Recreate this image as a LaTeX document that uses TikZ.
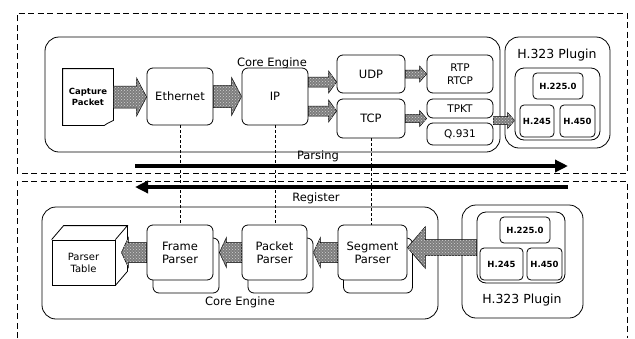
\documentclass[tikz,border=0pt]{standalone}
\usepackage{fontspec}
\setmainfont{DejaVu Sans}
\usetikzlibrary{arrows.meta,calc,patterns}
\definecolor{hatchG}{RGB}{125,125,125}
\definecolor{hatchL}{RGB}{210,210,210}
% fat shaded arrow: from, to, body half height, head half height, head length
\newcommand{\hatcharrow}[5]{%
  \filldraw[hatch] let \p1=(#1), \p2=(#2), \n2={\x2-sign(\x2-\x1)*#5} in
    (\x1,{\y1+#3}) -- ({\n2},{\y1+#3}) -- ({\n2},{\y1+#4}) -- (\x2,\y1)
    -- ({\n2},{\y1-#4}) -- ({\n2},{\y1-#3}) -- (\x1,{\y1-#3}) -- cycle;}

\begin{document}
\begin{tikzpicture}[x=1pt,y=-1pt,line width=0.8pt,
  box/.style={draw,fill=white,rounded corners=6pt,align=center,inner sep=1pt,font=\fontsize{11.5}{13}\selectfont},
  grp/.style={draw,rounded corners=14pt},
  sm/.style={draw,fill=white,rounded corners=4pt,inner sep=1pt,font=\bfseries\fontsize{8.5}{10}\selectfont},
  lbl/.style={inner sep=1pt,font=\fontsize{11.5}{13}\selectfont},
  sep/.style={line width=1pt,dash pattern=on 6pt off 3.5pt},
  link/.style={line width=0.7pt,dash pattern=on 3pt off 2pt},
  flow/.style={line width=4pt,-{Triangle[length=13pt,width=12pt]}},
  hatch/.style={fill=hatchG,draw=black,line width=0.5pt,postaction={pattern=crosshatch dots,pattern color=hatchL}}]
\useasboundingbox (0,0) rectangle (635,338);

% dashed frames
\draw[sep] (17,173) -- (17,13) -- (627,13) -- (627,173) -- cycle;
\draw[sep] (17,338) -- (17,181) -- (627,181) -- (627,338);

% ---- parsing side
\node[grp,minimum width=455pt,minimum height=115pt] (coreA) at (272.5,94.5) {};
\node[lbl] (coreAl) at (272,63) {Core Engine};
\node[minimum width=50pt,minimum height=56pt,inner sep=0pt,align=center,font=\bfseries\fontsize{8.5}{11}\selectfont] (capt) at (88,97) {Capture\\Packet};
\draw (capt.north west) -- (capt.north east) -- ([yshift=5pt]capt.south east) -- ([xshift=-6pt,yshift=2pt]capt.south east) -- ([xshift=-9pt]capt.south east) -- (capt.south west) -- cycle;
\node[box,minimum width=66pt,minimum height=57pt] (eth) at (180,96.5) {Ethernet};
\node[box,minimum width=66pt,minimum height=57pt] (ip) at (275,96.5) {IP};
\node[box,minimum width=68pt,minimum height=38pt] (udp) at (371,74) {UDP};
\node[box,minimum width=68pt,minimum height=39pt] (tcp) at (371,118.5) {TCP};
\node[box,minimum width=66pt,minimum height=38pt,font=\fontsize{10.5}{13}\selectfont] (rtp) at (460,74) {RTP\\RTCP};
\node[box,minimum width=66pt,minimum height=19pt,font=\fontsize{10.5}{12}\selectfont] (tpkt) at (460,108.5) {TPKT};
\node[box,minimum width=66pt,minimum height=22pt,font=\fontsize{10.5}{12}\selectfont] (q931) at (460,134) {Q.931};
\coordinate (stkW) at ($(tpkt.south west)!.5!(q931.north west)$);
\coordinate (stkE) at ($(tpkt.south east)!.5!(q931.north east)$);

\node[grp,minimum width=105pt,minimum height=111pt] (plugA) at (557.5,92.5) {};
\node[lbl,font=\fontsize{12.5}{14}\selectfont] (plugAl) at (557,55) {H.323 Plugin};
\node[grp,rounded corners=9pt,minimum width=85pt,minimum height=72pt] (plugAin) at (557.5,104) {};
\node[sm,minimum width=50pt,minimum height=26pt] (h225a) at (558,86) {H.225.0};
\node[sm,minimum width=34pt,minimum height=32pt] (h245a) at (537,121) {H.245};
\node[sm,minimum width=35pt,minimum height=32pt] (h450a) at (577.5,121) {H.450};

\hatcharrow{capt.east}{eth.west}{11pt}{19pt}{10pt}
\hatcharrow{eth.east}{ip.west}{11pt}{19pt}{10pt}
\hatcharrow{$(ip.east)+(0,-14.5)$}{udp.west}{5pt}{11pt}{8pt}
\hatcharrow{$(ip.east)+(0,14.5)$}{tcp.west}{5pt}{11pt}{8pt}
\hatcharrow{udp.east}{rtp.west}{4pt}{8pt}{7pt}
\hatcharrow{tcp.east}{stkW}{4pt}{8pt}{7pt}
\hatcharrow{stkE}{plugAin.west}{4pt}{8pt}{7pt}

% ---- register side
\node[grp,minimum width=396pt,minimum height=112pt] (coreB) at (240,263) {};
\node[lbl] (coreBl) at (240,302) {Core Engine};

\node[draw,fill=white,minimum width=63pt,minimum height=45pt,inner sep=0pt,align=center,font=\fontsize{10}{12}\selectfont] (table) at (83.5,262.5) {Parser\\Table};
\draw (table.north west) -- ++(12pt,14pt) -- ([xshift=12pt,yshift=14pt]table.north east) -- (table.north east);
\draw ([xshift=12pt,yshift=14pt]table.north east) -- ([xshift=12pt,yshift=14pt]table.south east) -- (table.south east);

\node[box,minimum width=66pt,minimum height=55pt] (frameB) at (186,265.5) {};
\node[box,minimum width=66pt,minimum height=55pt] (frame) at (180,252.5) {Frame\\Parser};
\node[box,minimum width=65pt,minimum height=55pt] (packB) at (280.5,265.5) {};
\node[box,minimum width=65pt,minimum height=55pt] (pack) at (274.5,252.5) {Packet\\Parser};
\node[box,minimum width=69pt,minimum height=55pt] (segB) at (378,265.5) {};
\node[box,minimum width=69pt,minimum height=55pt] (seg) at (372.5,252.5) {Segment\\Parser};

\node[grp,minimum width=121pt,minimum height=113pt] (plugB) at (522.5,261.5) {};
\node[lbl,font=\fontsize{12.5}{14}\selectfont] (plugBl) at (522,300) {H.323 Plugin};
\node[grp,rounded corners=9pt,minimum width=88pt,minimum height=71pt] (plugBin) at (521,247.5) {};
\node[sm,minimum width=50pt,minimum height=26pt] (h225b) at (525,230) {H.225.0};
\node[sm,minimum width=43pt,minimum height=32pt] (h245b) at (501.5,264) {H.245};
\node[sm,minimum width=35pt,minimum height=32pt] (h450b) at (544.5,264) {H.450};

\hatcharrow{plugBin.west}{seg.east}{8pt}{21pt}{18pt}
\hatcharrow{seg.west}{packB.east}{10pt}{15pt}{7pt}
\hatcharrow{pack.west}{frameB.east}{10pt}{15pt}{7pt}
\hatcharrow{frame.west}{$(table.east)+(6,0)$}{10pt}{15pt}{7pt}

% ---- links and flows
\draw[link] (eth.south) -- (frame.north);
\draw[link] (ip.south) -- (ip.south |- pack.north);
\draw[link] (tcp.south) -- (tcp.south |- seg.north);

\coordinate (parseL) at (135,166);
\coordinate (parseR) at (568,166);
\coordinate (regR) at (568,187);
\coordinate (regL) at (135,187);
\draw[flow] (parseL) -- (parseR);
\draw[flow] (regR) -- (regL);
\node[lbl] (parseT) at (318,156) {Parsing};
\node[lbl] (regT) at (316,198) {Register};
\end{tikzpicture}
\end{document}
